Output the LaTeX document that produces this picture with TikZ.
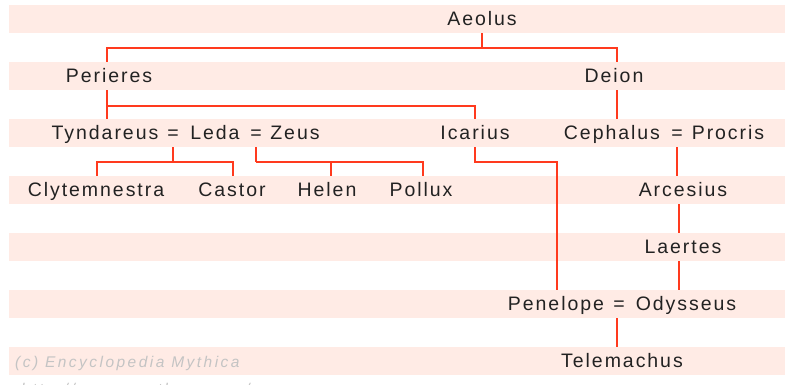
\documentclass[tikz,border=0pt]{standalone}
\usepackage{fontspec}
\setmainfont{Liberation Sans}[LetterSpace=10]
\newfontfamily\markfont{Liberation Sans}[LetterSpace=16]
\definecolor{bandpink}{HTML}{FFEBE5}
\definecolor{linkred}{HTML}{FF3A1E}
\definecolor{inkgray}{HTML}{222222}
\definecolor{markgray}{HTML}{C4C4C4}
\begin{document}
\begin{tikzpicture}[x=1pt,y=-1pt,
  person/.style={font=\fontsize{19.5}{20}\selectfont, text=inkgray, inner sep=0pt,
    minimum height=28pt, text height=14pt, text depth=1.5pt},
  link/.style={draw=linkred, line width=2pt},
  watermark/.style={font=\markfont\itshape\fontsize{15.5}{16}\selectfont, text=markgray, inner sep=0pt, anchor=base west}]
\useasboundingbox (0,0) rectangle (785,385);
\clip (0,0) rectangle (785,385);
\foreach \i in {0,...,6} \fill[bandpink] (9,5+57*\i) rectangle (785,33+57*\i);
% row 0
\node[person] (aeolus) at (482,19) {Aeolus};
% row 1
\node[person] (perieres) at (109,76) {Perieres};
\node[person] (deion) at (614,76) {Deion};
% row 2
\node[person] (tyndareus) at (105,133) {Tyndareus};
\node[person] (eqA) at (173,133) {=};
\node[person] (leda) at (215,133) {Leda};
\node[person] (eqB) at (256,133) {=};
\node[person] (zeus) at (295,133) {Zeus};
\node[person] (icarius) at (475,133) {Icarius};
\node[person] (cephalus) at (612,133) {Cephalus};
\node[person] (eqC) at (677,133) {=};
\node[person] (procris) at (728,133) {Procris};
% row 3
\node[person] (clyt) at (96,190) {Clytemnestra};
\node[person] (castor) at (232,190) {Castor};
\node[person] (helen) at (327,190) {Helen};
\node[person] (pollux) at (421,190) {Pollux};
\node[person] (arcesius) at (683,190) {Arcesius};
% row 4
\node[person] (laertes) at (683,247) {Laertes};
% row 5
\node[person] (penelope) at (556,304) {Penelope};
\node[person] (eqD) at (619,304) {=};
\node[person] (odysseus) at (686,304) {Odysseus};
% row 6
\node[person] (telemachus) at (622,361) {Telemachus};
% watermark
\node[watermark] (copy) at (15,367) {(c) Encyclopedia Mythica};
\node[watermark] (url) at (21,394) {http://www.pantheon.org/};
% connectors
\draw[link] (aeolus.south) -- ++(0,14.5) coordinate (jA);
\coordinate (pN) at ([xshift=-2pt]perieres.north);
\coordinate (dN) at ([xshift=3pt]deion.north);
\draw[link] (pN) |- (jA) -| (dN);
\coordinate (pS) at ([xshift=-2pt]perieres.south);
\draw[link] (pS) -- ++(0,16) coordinate (jP) -- (jP |- tyndareus.north);
\draw[link] (jP) -| (icarius.north);
\coordinate (dS) at ([xshift=3pt]deion.south);
\draw[link] (dS) -- (dS |- cephalus.north);
\draw[link] (eqA.south) -- ++(0,14.5) coordinate (jT);
\coordinate (cN) at ([xshift=1pt]clyt.north);
\coordinate (kN) at ([xshift=1pt]castor.north);
\draw[link] (cN) |- (jT) -| (kN);
\draw[link] (eqB.south) -- ++(0,14.5) coordinate (jL);
\coordinate (hN) at ([xshift=4pt]helen.north);
\coordinate (xN) at ([xshift=2pt]pollux.north);
\draw[link] (jL) -| (xN);
\draw[link] (hN) |- (jL);
\draw[link] (icarius.south) -- ++(0,14.5) -| ([xshift=1pt]penelope.north);
\draw[link] (eqC.south) -- (eqC.south |- arcesius.north);
\coordinate (aS) at ([xshift=-4pt]arcesius.south);
\draw[link] (aS) -- (aS |- laertes.north);
\coordinate (lS) at ([xshift=-4pt]laertes.south);
\draw[link] (lS) -- (lS |- odysseus.north);
\coordinate (eS) at ([xshift=-2pt]eqD.south);
\draw[link] (eS) -- (eS |- telemachus.north);
\end{tikzpicture}
\end{document}
